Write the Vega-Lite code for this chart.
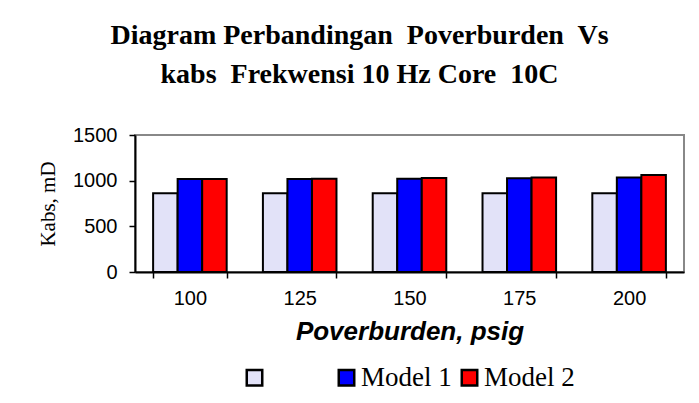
{
  "$schema": "https://vega.github.io/schema/vega-lite/v6.json",
  "width": 549,
  "height": 137,
  "autosize": {"type": "none"},
  "padding": {"left": 135, "top": 135, "right": 15, "bottom": 131},
  "background": "white",
  "title": {
    "text": ["Diagram Perbandingan\u00a0 Poverburden\u00a0 Vs", "kabs\u00a0 Frekwensi 10 Hz Core\u00a0 10C"],
    "font": "Liberation Serif",
    "fontSize": 28,
    "fontWeight": "bold",
    "color": "black",
    "lineHeight": 39,
    "anchor": "middle",
    "dx": -50,
    "offset": 36
  },
  "data": {
    "values": [
      {"p": "100", "series": "Data", "k": 862},
      {"p": "100", "series": "Model 1", "k": 1017},
      {"p": "100", "series": "Model 2", "k": 1017},
      {"p": "125", "series": "Data", "k": 862},
      {"p": "125", "series": "Model 1", "k": 1017},
      {"p": "125", "series": "Model 2", "k": 1022},
      {"p": "150", "series": "Data", "k": 862},
      {"p": "150", "series": "Model 1", "k": 1022},
      {"p": "150", "series": "Model 2", "k": 1030},
      {"p": "175", "series": "Data", "k": 862},
      {"p": "175", "series": "Model 1", "k": 1026},
      {"p": "175", "series": "Model 2", "k": 1036},
      {"p": "200", "series": "Data", "k": 862},
      {"p": "200", "series": "Model 1", "k": 1036},
      {"p": "200", "series": "Model 2", "k": 1063}
    ]
  },
  "mark": {"type": "bar", "stroke": "black", "strokeWidth": 2},
  "encoding": {
    "x": {
      "field": "p",
      "type": "nominal",
      "scale": {"paddingInner": 0.33, "paddingOuter": 0.165},
      "axis": {
        "title": "Poverburden, psig",
        "titleFont": "Liberation Sans",
        "titleFontSize": 26,
        "titleFontWeight": "bold",
        "titleFontStyle": "italic",
        "titleColor": "black",
        "titlePadding": 10,
        "labelAngle": 0,
        "labelFont": "Liberation Sans",
        "labelFontSize": 20,
        "labelColor": "black",
        "labelPadding": 10,
        "tickBand": "extent",
        "tickSize": 6,
        "tickColor": "black",
        "tickWidth": 1.5,
        "domainColor": "black",
        "domainWidth": 2
      }
    },
    "xOffset": {"field": "series", "type": "nominal", "sort": ["Data", "Model 1", "Model 2"], "scale": {"paddingInner": 0, "paddingOuter": 0}},
    "y": {
      "field": "k",
      "type": "quantitative",
      "scale": {"domain": [0, 1500]},
      "axis": {
        "values": [0, 500, 1000, 1500],
        "format": "d",
        "grid": false,
        "title": "Kabs, mD",
        "titleFont": "Liberation Serif",
        "titleFontSize": 21,
        "titleFontWeight": "normal",
        "titleColor": "black",
        "titlePadding": 14,
        "labelFont": "Liberation Sans",
        "labelFontSize": 20,
        "labelColor": "black",
        "labelPadding": 12,
        "tickSize": 6,
        "tickColor": "black",
        "tickWidth": 1.5,
        "domainColor": "black",
        "domainWidth": 2
      }
    },
    "color": {
      "field": "series",
      "type": "nominal",
      "sort": ["Data", "Model 1", "Model 2"],
      "scale": {"domain": ["Data", "Model 1", "Model 2"], "range": ["#E2E2F8", "#0000FF", "#FF0000"]},
      "legend": {
        "title": null,
        "orient": "none",
        "direction": "horizontal",
        "legendX": 106,
        "legendY": 229,
        "labelExpr": "datum.label == 'Data' ? '\u2800\u2800\u2800' : datum.label",
        "labelFont": "Liberation Serif",
        "labelFontSize": 27,
        "labelColor": "black",
        "labelOffset": 1,
        "labelLimit": 300,
        "columnPadding": 4,
        "symbolType": "square",
        "symbolSize": 240,
        "symbolStrokeColor": "black",
        "symbolStrokeWidth": 2.5
      }
    }
  },
  "config": {
    "view": {"stroke": "#888888", "strokeWidth": 2}
  }
}
